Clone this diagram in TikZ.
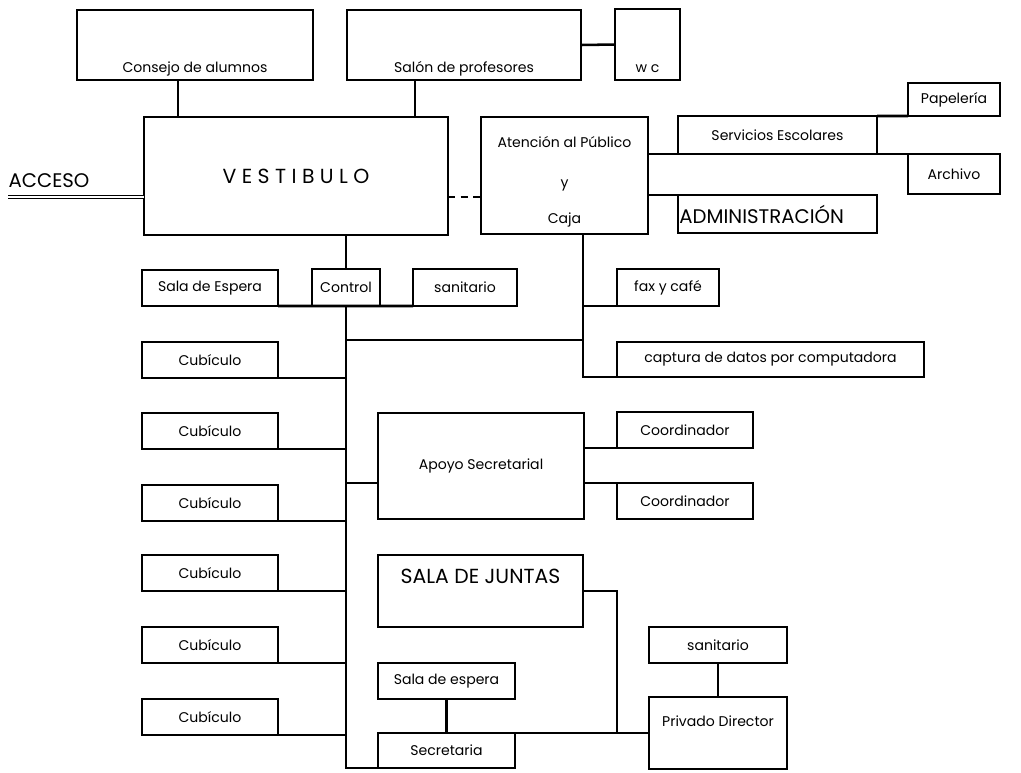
\documentclass[tikz,border=0pt]{standalone}
\usepackage{fontspec}
\setmainfont{Poppins}
\begin{document}
\begin{tikzpicture}[x=0.025cm, y=-0.025cm,
    room/.style={draw, rectangle, line width=1.8pt, inner sep=0pt, outer sep=0pt, font=\fontsize{10}{12}\selectfont},
    wh/.style 2 args={minimum width=#1*0.025cm, minimum height=#2*0.025cm},
    wire/.style={line width=1.8pt}]
  \useasboundingbox (0,0) rectangle (1021,772);

  \node[font=\fontsize{14}{16}\selectfont] (acceso) at (49,181) {ACCESO};

  \begin{scope}[every node/.style={room}]
    \node[wh={236}{70}, text height=1.55cm, text depth=0.2cm]   (consejo)   at (195,45)    {Consejo de alumnos};
    \node[wh={234}{70}, text height=1.55cm, text depth=0.2cm]   (salon)     at (464,45)    {Salón de profesores};
    \node[wh={65}{71}, text height=1.575cm, text depth=0.2cm]   (wc)        at (647.5,44.5) {w c};
    \node[wh={304}{118}, font=\fontsize{14.5}{16}\selectfont]   (vestibulo) at (296,176)   {V E S T I B U L O};
    \node[wh={167}{117}, align=center, text height=2.65cm, text depth=0.275cm]
                                                                (atencion)  at (564.5,175.5) {Atención al Público\\[17pt]y\\[13pt]Caja};
    \node[wh={199}{38}]                                         (servicios) at (777.5,135) {Servicios Escolares};
    \node[wh={92}{33}]                                          (papeleria) at (954,99.5)  {Papelería};
    \node[wh={92}{40}]                                          (archivo)   at (954,174)   {Archivo};
    \node[wh={199}{38}, text width=4.9cm, inner xsep=1pt, align=left,
          font=\fontsize{14}{16}\selectfont]                    (admin)     at (777.5,214) {ADMINISTRACIÓN};
    \node[wh={136}{36}]                                         (salaesp)   at (210,288)   {Sala de Espera};
    \node[wh={68}{37}]                                          (control)   at (346,287.5) {Control};
    \node[wh={104}{37}]                                         (sanit1)    at (465,287.5) {sanitario};
    \node[wh={102}{37}]                                         (fax)       at (668,287.5) {fax y café};
    \node[wh={307}{35}]                                         (captura)   at (770.5,359.5) {captura de datos por computadora};
    \node[wh={136}{36}]                                         (cub1)      at (210,360)   {Cubículo};
    \node[wh={136}{36}]                                         (cub2)      at (210,431)   {Cubículo};
    \node[wh={136}{36}]                                         (cub3)      at (210,503)   {Cubículo};
    \node[wh={136}{36}]                                         (cub4)      at (210,573)   {Cubículo};
    \node[wh={136}{36}]                                         (cub5)      at (210,645)   {Cubículo};
    \node[wh={136}{36}]                                         (cub6)      at (210,717)   {Cubículo};
    \node[wh={206}{106}]                                        (apoyo)     at (481,466)   {Apoyo Secretarial};
    \node[wh={136}{36}]                                         (coord1)    at (685,430)   {Coordinador};
    \node[wh={136}{36}]                                         (coord2)    at (685,501)   {Coordinador};
    \node[wh={205}{72}, text height=0.7cm, text depth=1.1cm,
          font=\fontsize{14.5}{16}\selectfont]                  (juntas)    at (480.5,591) {SALA DE JUNTAS};
    \node[wh={137}{36}]                                         (salaesp2)  at (446.5,681) {Sala de espera};
    \node[wh={137}{35}]                                         (secretaria) at (446.5,750.5) {Secretaria};
    \node[wh={138}{36}]                                         (sanit2)    at (718,645)   {sanitario};
    \node[wh={138}{72}, text height=0.725cm, text depth=1.075cm] (privado)  at (718,733)   {Privado Director};
  \end{scope}

  \coordinate (cj)  at (178,0);
  \coordinate (sj)  at (415,0);
  \coordinate (acc) at (8,197);
  \coordinate (av)  at (583,340);
  \coordinate (jv)  at (617,0);

  \begin{scope}[wire]
    \draw (consejo.south -| cj) -- (vestibulo.north -| cj);
    \draw (salon.south -| sj) -- (vestibulo.north -| sj);
    \draw (salon.east) -- (wc.west);
    \draw[double, double distance=1.2pt, line width=0.7pt] (acc) -- (vestibulo.west |- acc);
    \draw[dash pattern=on 5pt off 4pt] (vestibulo.east |- acc) -- (atencion.west |- acc);
    \draw (servicios.north east) -- (papeleria.south west);
    \draw (atencion.east |- archivo.north) -- (archivo.north west);
    \draw (atencion.east |- admin.north) -- (admin.north west);
    \draw (vestibulo.south -| control.north) -- (control.north);
    \draw (salaesp.south east) -- (sanit1.south west);
    \draw (control.south) |- (secretaria.south west);
    \foreach \i in {1,...,6}
      \draw (cub\i.south east) -- (cub\i.south east -| control.south);
    \draw (atencion.south -| av) |- (captura.south west);
    \draw (av |- fax.south) -- (fax.south west);
    \draw (control.south |- av) -- (av);
    \draw (control.south |- coord2.north) -- (apoyo.west |- coord2.north);
    \draw (apoyo.east |- coord1.south) -- (coord1.south west);
    \draw (apoyo.east |- coord2.north) -- (coord2.north west);
    \draw (juntas.east) -| (jv |- privado.west);
    \draw (secretaria.north east) -- (privado.west);
    \draw (salaesp2) -- (secretaria);
    \draw (sanit2) -- (privado);
  \end{scope}

\end{tikzpicture}
\end{document}
